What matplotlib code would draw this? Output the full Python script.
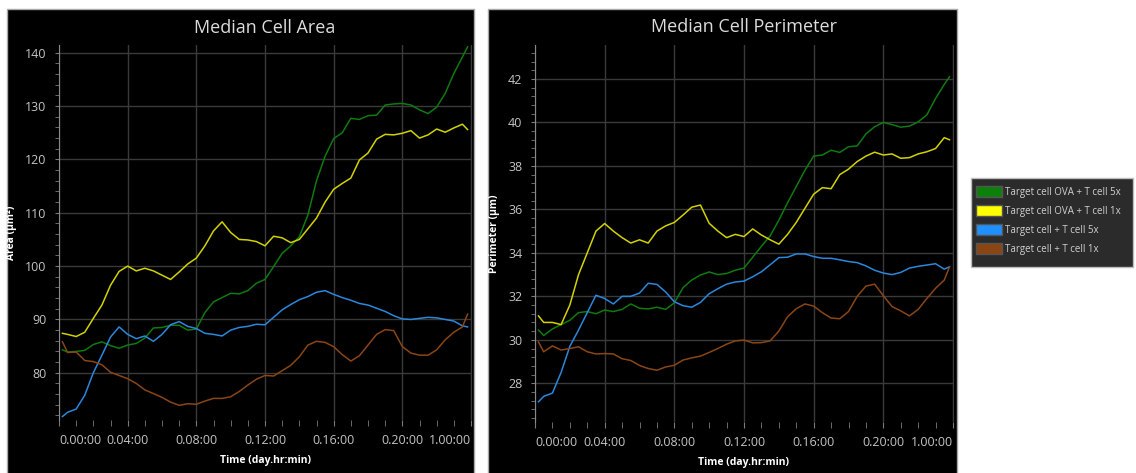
import matplotlib
matplotlib.use("Agg")
import matplotlib.pyplot as plt
from matplotlib.patches import Rectangle, Patch
from matplotlib.ticker import MultipleLocator, FixedLocator

plt.rcParams['font.family'] = ['Open Sans', 'DejaVu Sans']

# time points in hours (sampled every half hour)
hours = [0.2] + [0.5 * i for i in range(1, 48)] + [23.8]

series_names = ["Target cell OVA + T cell 5x", "Target cell OVA + T cell 1x",
                "Target cell + T cell 5x", "Target cell + T cell 1x"]
line_colors = ["#0f7a0f", "#d2d200", "#2a88dc", "#8a4614"]
legend_colors = ["#0b800b", "#ffff00", "#1e90ff", "#8b4513"]

x_tick_hours = [0, 4, 8, 12, 16, 20, 24]
x_tick_labels = ["0.00:00", "0.04:00", "0.08:00", "0.12:00", "0.16:00", "0.20:00", "1.00:00"]

area_ova_5x = [84.3, 83.9, 84.0, 84.2, 85.3, 85.8, 85.1, 84.6, 85.2, 85.5,
               86.5, 88.4, 88.5, 88.9, 88.9, 88.0, 88.2, 91.3, 93.3, 94.1,
               94.9, 94.8, 95.4, 96.8, 97.5, 99.9, 102.4, 103.8, 105.5, 109.6,
               116.0, 120.6, 123.9, 125.0, 127.7, 127.5, 128.2, 128.3, 130.2, 130.4,
               130.5, 130.2, 129.3, 128.6, 129.8, 132.4, 136.1, 139.2, 141.1]
area_ova_1x = [87.4, 87.2, 86.8, 87.6, 90.2, 92.7, 96.4, 99.0, 100.0, 99.1,
               99.6, 99.1, 98.3, 97.5, 98.9, 100.4, 101.5, 103.8, 106.6, 108.3,
               106.3, 105.0, 104.9, 104.6, 103.8, 105.6, 105.3, 104.4, 105.0, 107.0,
               109.0, 112.0, 114.4, 115.5, 116.5, 119.9, 121.2, 123.8, 124.7, 124.6,
               124.9, 125.4, 124.0, 124.6, 125.7, 125.1, 125.9, 126.6, 125.6]
area_ctrl_5x = [71.8, 72.6, 73.2, 75.8, 80.0, 83.3, 86.7, 88.6, 87.2, 86.4,
                86.9, 85.9, 87.2, 89.0, 89.6, 88.7, 88.3, 87.4, 87.2, 86.9,
                88.0, 88.5, 88.7, 89.1, 89.0, 90.4, 91.8, 92.8, 93.7, 94.3,
                95.1, 95.4, 94.7, 94.1, 93.6, 93.0, 92.7, 92.1, 91.5, 90.7,
                90.1, 90.0, 90.2, 90.4, 90.3, 90.0, 89.7, 88.8, 88.6]
area_ctrl_1x = [85.8, 83.8, 83.9, 82.3, 82.1, 81.5, 80.1, 79.5, 78.9, 78.0,
                76.8, 76.1, 75.4, 74.5, 73.9, 74.2, 74.1, 74.7, 75.2, 75.2,
                75.5, 76.5, 77.7, 78.8, 79.5, 79.4, 80.4, 81.4, 83.0, 85.2,
                85.9, 85.7, 84.9, 83.4, 82.2, 83.2, 85.2, 87.2, 88.1, 87.9,
                84.9, 83.7, 83.3, 83.3, 84.3, 86.2, 87.6, 88.6, 91.0]

perim_ova_5x = [30.45, 30.2, 30.5, 30.7, 30.9, 31.25, 31.3, 31.2, 31.37, 31.3,
                31.4, 31.65, 31.45, 31.42, 31.5, 31.4, 31.7, 32.4, 32.75, 32.98,
                33.12, 33.0, 33.05, 33.2, 33.3, 33.8, 34.3, 34.78, 35.5, 36.3,
                37.05, 37.8, 38.45, 38.5, 38.72, 38.62, 38.88, 38.92, 39.47, 39.8,
                40.0, 39.9, 39.78, 39.83, 40.02, 40.35, 41.1, 41.75, 42.1]
perim_ova_1x = [31.1, 30.8, 30.8, 30.7, 31.6, 33.0, 34.0, 35.0, 35.35, 35.0,
                34.7, 34.45, 34.6, 34.45, 35.0, 35.24, 35.4, 35.74, 36.1, 36.2,
                35.36, 35.0, 34.7, 34.85, 34.75, 35.1, 34.82, 34.6, 34.4, 34.85,
                35.4, 36.05, 36.7, 37.0, 36.95, 37.6, 37.85, 38.2, 38.45, 38.63,
                38.5, 38.55, 38.35, 38.38, 38.55, 38.65, 38.8, 39.3, 39.2]
perim_ctrl_5x = [27.15, 27.4, 27.55, 28.5, 29.7, 30.45, 31.25, 32.05, 31.9, 31.65,
                 32.0, 32.0, 32.15, 32.6, 32.55, 32.2, 31.75, 31.57, 31.5, 31.72,
                 32.12, 32.35, 32.56, 32.66, 32.7, 32.9, 33.13, 33.45, 33.78, 33.8,
                 33.95, 33.95, 33.83, 33.75, 33.75, 33.68, 33.6, 33.55, 33.4, 33.2,
                 33.07, 33.0, 33.1, 33.3, 33.38, 33.44, 33.5, 33.25, 33.36]
perim_ctrl_1x = [29.9, 29.45, 29.72, 29.53, 29.6, 29.68, 29.45, 29.35, 29.37, 29.35,
                 29.13, 29.05, 28.82, 28.68, 28.6, 28.75, 28.83, 29.07, 29.17, 29.25,
                 29.42, 29.6, 29.8, 29.95, 29.99, 29.86, 29.87, 29.95, 30.4, 31.06,
                 31.43, 31.65, 31.55, 31.25, 31.0, 30.97, 31.3, 32.0, 32.47, 32.56,
                 32.03, 31.53, 31.33, 31.1, 31.4, 31.9, 32.37, 32.75, 33.36]

W, H = 1136, 473
fig = plt.figure(figsize=(W / 100, H / 100), dpi=100)
fig.patch.set_facecolor('white')


def px_rect(x0, y0, x1, y1):
    """ converts pixel box (top-left origin) into figure fraction rect """
    return [x0 / W, 1 - y1 / H, (x1 - x0) / W, (y1 - y0) / H]


def add_box(x0, y0, x1, y1, face, edge):
    r = Rectangle((x0 / W, 1 - y1 / H), (x1 - x0) / W, (y1 - y0) / H,
                  transform=fig.transFigure, facecolor=face,
                  edgecolor=edge, linewidth=1.0, zorder=-5)
    fig.patches.append(r)


def plot_panel(box, data, title, ylabel, ylim, ymajor, yminor, ylabel_x):
    ax = fig.add_axes(px_rect(*box))
    ax.set_facecolor('black')
    for values, color in zip(data, line_colors):
        ax.plot(hours, values, color=color, linewidth=1.1)

    ax.set_xlim(0, 24)
    ax.set_ylim(*ylim)
    ax.xaxis.set_major_locator(FixedLocator(x_tick_hours))
    ax.xaxis.set_minor_locator(MultipleLocator(1))
    ax.set_xticklabels(x_tick_labels)
    labels = ax.get_xticklabels()
    labels[0].set_horizontalalignment('left')
    labels[-1].set_horizontalalignment('right')
    ax.yaxis.set_major_locator(MultipleLocator(ymajor))
    ax.yaxis.set_minor_locator(MultipleLocator(yminor))

    ax.grid(True, which='major', color='#3a3a3a', linewidth=1.0)
    ax.set_axisbelow(True)
    ax.tick_params(which='both', colors='#7a7a7a', labelcolor='#c4c4c4',
                   labelsize=9, direction='out')
    ax.tick_params(axis='x', which='both', length=4, pad=6)
    ax.tick_params(axis='y', which='both', length=3, pad=6)

    ax.spines['top'].set_visible(False)
    ax.spines['bottom'].set_visible(False)
    ax.spines['left'].set_color('#8a8a8a')
    ax.spines['right'].set_color('#3a3a3a')

    ax.set_title(title, color='#dcdcdc', fontsize=13, pad=9)
    ax.set_xlabel("Time (day.hr:min)", color='white', fontsize=7.5, fontweight='bold')
    ax.xaxis.set_label_coords(0.5, -0.093)
    ax.set_ylabel(ylabel, color='white', fontsize=7.5, fontweight='bold')
    ax.yaxis.set_label_coords(ylabel_x, 0.5)
    return ax


# black cards behind each chart (bottom runs off the figure)
add_box(7, 9, 474, 480, 'black', '#a8a8a8')
add_box(488, 9, 957, 480, 'black', '#a8a8a8')

plot_panel((59, 45, 471, 420),
           [area_ova_5x, area_ova_1x, area_ctrl_5x, area_ctrl_1x],
           "Median Cell Area", "Area (µm²)", (71.15, 141.45), 10, 2, -0.102)
plot_panel((535, 45, 953, 422),
           [perim_ova_5x, perim_ova_1x, perim_ctrl_5x, perim_ctrl_1x],
           "Median Cell Perimeter", "Perimeter (µm)", (26.22, 43.56), 2, 0.4, -0.084)

# legend box at the right side
add_box(971, 178, 1133, 267, '#2b2b2b', '#bdbdbd')
handles = [Patch(facecolor=c, edgecolor='#555555') for c in legend_colors]
leg = fig.legend(handles, series_names, loc='upper left',
                 bbox_to_anchor=(971 / W, 1 - 181 / H), fontsize=7,
                 frameon=False, labelcolor='#d0d0d0',
                 handlelength=2.7, handleheight=1.35, handletextpad=0.25,
                 labelspacing=0.75, borderpad=0.5, borderaxespad=0)

fig.savefig("out.png", dpi=100, facecolor='white')
